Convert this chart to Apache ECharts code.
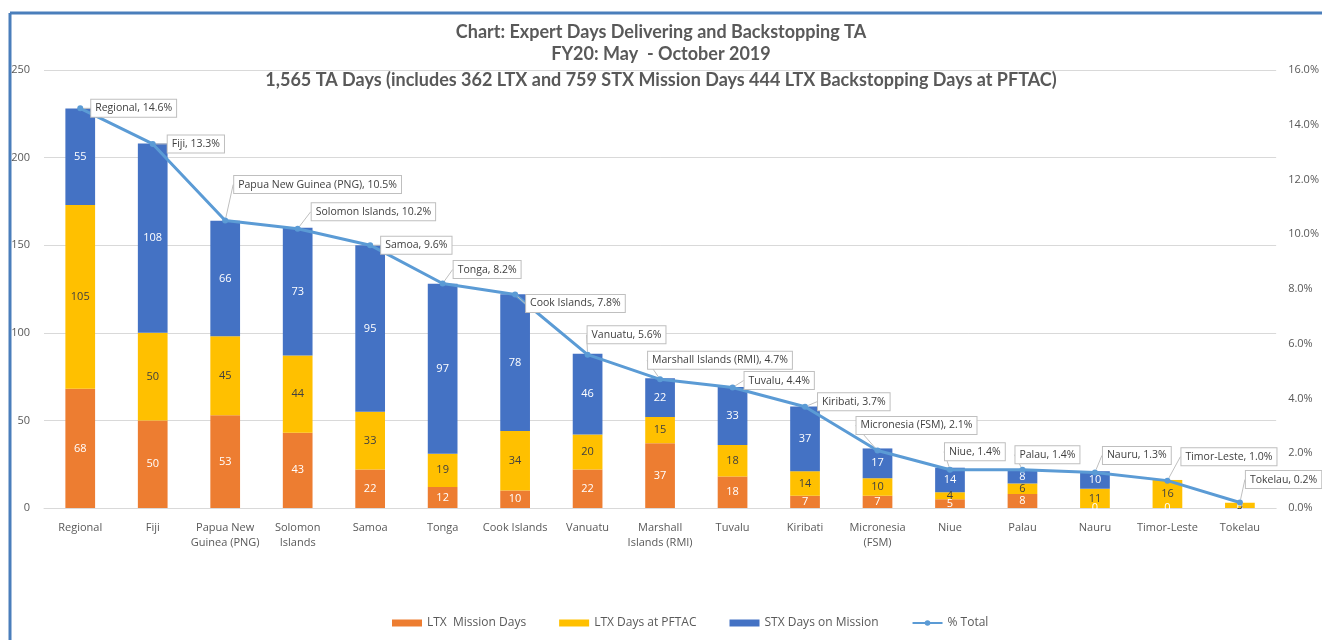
<!DOCTYPE html>
<html>
<head>
<meta charset="utf-8">
<script src="https://cdn.jsdelivr.net/npm/echarts@6/dist/echarts.min.js"></script>
<style>
  html, body { margin: 0; padding: 0; background: #fff; }
  #main { width: 1322px; height: 640px; }
</style>
</head>
<body>
<div id="main"></div>
<script>
// data
var countries = ['Regional', 'Fiji', 'Papua New\nGuinea (PNG)', 'Solomon\nIslands', 'Samoa', 'Tonga',
  'Cook Islands', 'Vanuatu', 'Marshall\nIslands (RMI)', 'Tuvalu', 'Kiribati', 'Micronesia\n(FSM)',
  'Niue', 'Palau', 'Nauru', 'Timor-Leste', 'Tokelau'];
var ltxMission = [68, 50, 53, 43, 22, 12, 10, 22, 37, 18, 7, 7, 5, 8, 0, 0, 0];
var ltxPftac = [105, 50, 45, 44, 33, 19, 34, 20, 15, 18, 14, 10, 4, 6, 11, 16, 3];
var stxMission = [55, 108, 66, 73, 95, 97, 78, 46, 22, 33, 37, 17, 14, 8, 10, 0, 0];
var pctTotal = [14.6, 13.3, 10.5, 10.2, 9.6, 8.2, 7.8, 5.6, 4.7, 4.4, 3.7, 2.1, 1.4, 1.4, 1.3, 1.0, 0.2];

// callout label shifts (px) for the % Total line
var labelShift = [[3, 0], [7, 0], [1, -36], [6, -17], [3, 0], [3, -14], [3, 9], [-8, -20], [-20, -19],
  [4, -7], [5, -5], [-29, -25], [-13, -18], [-15, -15], [0, -17], [6, -24], [-2, -23]];

var font = 'Open Sans';
var grey = '#595959';

var myChart = echarts.init(document.getElementById('main'));

function barSeries(name, data, color, labelColor) {
  return {
    name: name,
    type: 'bar',
    stack: 'days',
    barWidth: '41%',
    itemStyle: { color: color },
    label: {
      show: true,
      position: 'inside',
      color: labelColor,
      fontFamily: font,
      fontSize: 11
    },
    data: data
  };
}

var titleStyle = { fontFamily: 'Lato', fontSize: 18, fontWeight: 'bold', color: grey };

var option = {
  animation: false,
  textStyle: { fontFamily: font },
  graphic: [
    { type: 'line', shape: { x1: 10, y1: 13, x2: 1322, y2: 13 }, style: { stroke: '#4a7ebb', lineWidth: 3 } },
    { type: 'line', shape: { x1: 10, y1: 13, x2: 10, y2: 640 }, style: { stroke: '#4a7ebb', lineWidth: 3 } }
  ],
  title: [
    { text: 'Chart: Expert Days Delivering and Backstopping TA', left: 'center', top: 18, textStyle: titleStyle },
    { text: 'FY20: May  - October 2019', left: 'center', top: 40, textStyle: titleStyle },
    {
      text: '1,565 TA Days (includes 362 LTX and 759 STX Mission Days 444 LTX Backstopping Days at PFTAC)',
      left: 'center', top: 66, textStyle: titleStyle
    }
  ],
  legend: {
    bottom: 6,
    left: 387,
    itemGap: 33,
    itemWidth: 30,
    itemHeight: 7,
    textStyle: { color: grey, fontSize: 12, fontFamily: font },
    data: [
      { name: 'LTX  Mission Days', icon: 'rect' },
      { name: 'LTX Days at PFTAC', icon: 'rect' },
      { name: 'STX Days on Mission', icon: 'rect' },
      { name: '% Total' }
    ]
  },
  grid: { left: 44, right: 41, top: 70, bottom: 132 },
  xAxis: {
    type: 'category',
    data: countries,
    axisTick: { show: false },
    axisLine: { lineStyle: { color: '#d9d9d9' } },
    axisLabel: { color: grey, fontSize: 11, fontFamily: font, interval: 0, margin: 12, lineHeight: 15 }
  },
  yAxis: [
    {
      type: 'value', min: 0, max: 250, interval: 50,
      axisLabel: { color: grey, fontSize: 11, fontFamily: font, margin: 14 },
      splitLine: { lineStyle: { color: '#d9d9d9' } }
    },
    {
      type: 'value', min: 0, max: 16, interval: 2,
      axisLabel: {
        color: grey, fontSize: 11, fontFamily: font, margin: 12,
        formatter: function (v) { return v.toFixed(1) + '%'; }
      },
      splitLine: { show: false }
    }
  ],
  series: [
    barSeries('LTX  Mission Days', ltxMission, '#ED7D31', '#fff'),
    barSeries('LTX Days at PFTAC', ltxPftac, '#FFC000', '#404040'),
    barSeries('STX Days on Mission', stxMission, '#4472C4', '#fff'),
    {
      name: '% Total',
      type: 'line',
      yAxisIndex: 1,
      symbol: 'circle',
      symbolSize: 6,
      z: 5,
      lineStyle: { color: '#5B9BD5', width: 3 },
      itemStyle: { color: '#5B9BD5' },
      label: {
        show: true,
        position: 'right',
        distance: 5,
        color: '#404040',
        fontSize: 10.5,
        fontFamily: font,
        backgroundColor: '#fff',
        borderColor: '#bfbfbf',
        borderWidth: 1,
        padding: [3, 4],
        formatter: function (p) {
          return p.name.replace('\n', ' ') + ', ' + p.value.toFixed(1) + '%';
        }
      },
      labelLine: { show: true, lineStyle: { color: '#bfbfbf', width: 1 } },
      labelLayout: function (p) {
        var s = labelShift[p.dataIndex];
        return { dx: s[0], dy: s[1] };
      },
      data: pctTotal
    }
  ]
};

myChart.setOption(option);
</script>
</body>
</html>
